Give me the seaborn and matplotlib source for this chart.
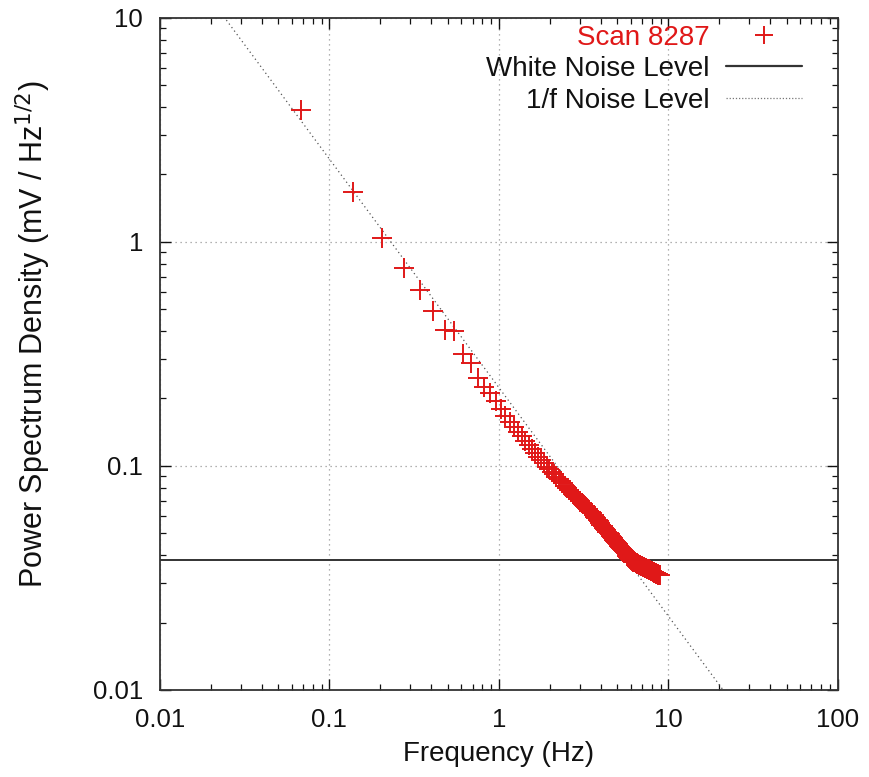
import numpy as np
import pandas as pd
import matplotlib
matplotlib.use("Agg")
import matplotlib.pyplot as plt
from matplotlib.lines import Line2D
import seaborn as sns

# ---------------- data ----------------
freq_hz = [
    0.068, 0.137, 0.205, 0.274, 0.342, 0.410, 0.479, 0.547, 0.616, 0.684,
    0.752, 0.821, 0.889, 0.958, 1.026, 1.094, 1.163, 1.231, 1.300, 1.368,
    1.436, 1.505, 1.573, 1.642, 1.710, 1.778, 1.847, 1.915, 1.984, 2.052,
    2.120, 2.189, 2.257, 2.326, 2.394, 2.462, 2.531, 2.599, 2.668, 2.736,
    2.804, 2.873, 2.941, 3.010, 3.078, 3.146, 3.215, 3.283, 3.352, 3.420,
    3.488, 3.557, 3.625, 3.694, 3.762, 3.830, 3.899, 3.967, 4.036, 4.104,
    4.172, 4.241, 4.309, 4.378, 4.446, 4.514, 4.583, 4.651, 4.720, 4.788,
    4.856, 4.925, 4.993, 5.062, 5.130, 5.198, 5.267, 5.335, 5.404, 5.472,
    5.540, 5.609, 5.677, 5.746, 5.814, 5.882, 5.951, 6.019, 6.088, 6.156,
    6.224, 6.293, 6.361, 6.430, 6.498, 6.566, 6.635, 6.703, 6.772, 6.840,
    6.908, 6.977, 7.045, 7.114, 7.182, 7.250, 7.319, 7.387, 7.456, 7.524,
    7.592, 7.661, 7.729, 7.798, 7.866, 7.934, 8.003, 8.071, 8.140, 8.208,
    8.276, 8.345, 8.413, 8.482, 8.550, 8.618, 8.687, 8.755, 8.824, 8.892,
]
psd_scan = [
    3.88, 1.67, 1.04, 0.766, 0.61, 0.49, 0.405, 0.40, 0.316, 0.288,
    0.247, 0.225, 0.212, 0.194, 0.180, 0.167, 0.1576, 0.1496, 0.1421, 0.1354,
    0.1295, 0.124, 0.119, 0.1144, 0.110, 0.1062, 0.1026, 0.0991, 0.0967, 0.0942,
    0.0918, 0.0895, 0.0874, 0.0854, 0.0835, 0.0817, 0.0800, 0.0783, 0.0767, 0.0752,
    0.0738, 0.0724, 0.0711, 0.0699, 0.0686, 0.0675, 0.0664, 0.0653, 0.0642, 0.0632,
    0.0623, 0.0614, 0.0603, 0.0593, 0.0583, 0.0574, 0.0565, 0.0556, 0.0547, 0.0539,
    0.0531, 0.0524, 0.0516, 0.0509, 0.0502, 0.0495, 0.0488, 0.0482, 0.0476, 0.0469,
    0.0463, 0.0458, 0.0452, 0.0447, 0.0441, 0.0436, 0.0431, 0.0426, 0.0421, 0.0416,
    0.0412, 0.0407, 0.0403, 0.0398, 0.0394, 0.0390, 0.0386, 0.0382, 0.0378, 0.0376,
    0.0374, 0.0372, 0.0371, 0.0369, 0.0368, 0.0366, 0.0365, 0.0363, 0.0362, 0.0360,
    0.0359, 0.0358, 0.0356, 0.0355, 0.0354, 0.0352, 0.0351, 0.0350, 0.0348, 0.0347,
    0.0346, 0.0345, 0.0344, 0.0342, 0.0341, 0.0340, 0.0339, 0.0338, 0.0337, 0.0336,
    0.0334, 0.0333, 0.0332, 0.0331, 0.0330, 0.0329, 0.0328, 0.0327, 0.0326, 0.0325,
]
white_noise_level = 0.038          # mV / Hz^1/2
one_over_f_amp = 0.224             # value of 1/f line at 1 Hz
one_over_f_slope = -1.02
line_freq = [0.01, 100.0]

x_ticks = [0.01, 0.1, 1, 10, 100]
x_ticklabels = ["0.01", "0.1", "1", "10", "100"]
y_ticks = [0.01, 0.1, 1, 10]
y_ticklabels = ["0.01", "0.1", "1", "10"]

series_labels = ["Scan 8287", "White Noise Level", "1/f Noise Level"]

# ---------------- style ----------------
sns.set_style("ticks")
plt.rcParams["font.family"] = ["Liberation Sans", "DejaVu Sans"]
plt.rcParams["xtick.direction"] = "in"
plt.rcParams["ytick.direction"] = "in"

fig = plt.figure(figsize=(8.69, 7.77), dpi=100)
ax = fig.add_axes([0.184, 0.112, 0.780, 0.865])

df = pd.DataFrame({"freq": freq_hz, "psd": psd_scan})
red = "#e01818"

sns.scatterplot(data=df, x="freq", y="psd", marker="+", s=215,
                color=red, linewidth=1.4, ax=ax, legend=False, zorder=3)

ax.axhline(white_noise_level, color="#333333", lw=1.4, zorder=2)

lf = np.array(line_freq)
sns.lineplot(x=lf, y=one_over_f_amp * lf ** one_over_f_slope, ax=ax,
             color="#555555", lw=0.9, linestyle=(0, (1, 2.5)), zorder=2)

ax.set_xscale("log")
ax.set_yscale("log")
ax.set_xlim(0.01, 100)
ax.set_ylim(0.01, 10)
ax.set_xticks(x_ticks)
ax.set_xticklabels(x_ticklabels)
ax.set_yticks(y_ticks)
ax.set_yticklabels(y_ticklabels)

ax.grid(which="major", linestyle=(0, (1, 3)), color="#999999", lw=0.9)
ax.tick_params(which="both", top=True, right=True, labelsize=18.5, colors="#111111")
ax.tick_params(which="major", length=8, width=1.0)
ax.tick_params(axis="x", which="major", pad=13)
ax.tick_params(axis="y", which="major", pad=12)
ax.tick_params(which="minor", length=4, width=0.9)
for sp in ax.spines.values():
    sp.set_color("#333333")
    sp.set_linewidth(1.3)

ax.set_xlabel("Frequency (Hz)", fontsize=20, color="#111111")
ax.xaxis.set_label_coords(0.5, -0.076)
ax.set_ylabel("Power Spectrum Density (mV / Hz$^{1/2}$)", fontsize=22,
              color="#111111")
ax.yaxis.set_label_coords(-0.158, 0.53)

handles = [
    Line2D([], [], marker="+", color=red, linestyle="", markersize=13, mew=1.4),
    Line2D([], [], color="#333333", lw=1.6),
    Line2D([], [], color="#777777", lw=0.9, linestyle=(0, (1, 1.5))),
]
leg = ax.legend(handles, series_labels, loc="upper right",
                bbox_to_anchor=(0.948, 0.99), frameon=False,
                markerfirst=False, fontsize=20, handlelength=2.75,
                borderaxespad=0.0, borderpad=0.0, labelspacing=0.2,
                handletextpad=0.6)
leg.get_texts()[0].set_color(red)
for t in leg.get_texts()[1:]:
    t.set_color("#111111")

fig.savefig("out.png", dpi=100)
